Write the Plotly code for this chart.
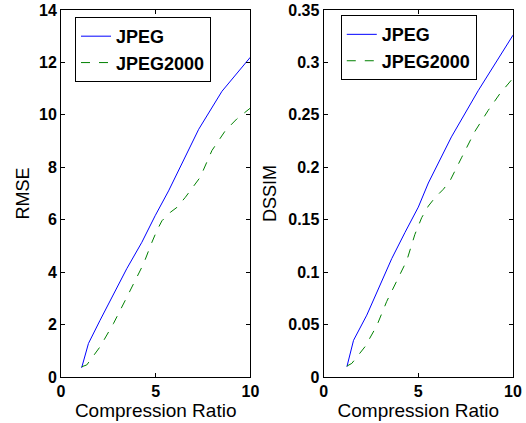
"""RMSE and DSSIM versus compression ratio for JPEG and JPEG2000."""

import plotly.graph_objects as go
from plotly.subplots import make_subplots

# Left panel: RMSE
RMSE_JPEG_X = [1.09, 1.45, 2.06, 2.86, 3.47, 4.27, 4.97, 5.68, 6.2, 7.27, 8.5, 10.0]
RMSE_JPEG_Y = [0.35, 1.28, 2.16, 3.3, 4.13, 5.14, 6.15, 7.1, 7.86, 9.45, 10.9, 12.2]
RMSE_J2K_X = [1.09, 1.36, 2.06, 2.77, 3.39, 3.92, 4.36, 4.8, 5.06, 5.33, 5.77,
              6.12, 6.56, 7.35, 7.97, 8.68, 9.29, 10.0]
RMSE_J2K_Y = [0.39, 0.46, 1.15, 2.04, 2.92, 3.68, 4.32, 5.14, 5.58, 5.96, 6.28,
              6.47, 6.85, 7.62, 8.64, 9.4, 9.85, 10.26]

# Right panel: DSSIM
DSSIM_JPEG_X = [1.23, 1.58, 2.28, 2.98, 3.6, 4.3, 5.0, 5.53, 6.75, 8.16, 10.0]
DSSIM_JPEG_Y = [0.0098, 0.035, 0.059, 0.087, 0.113, 0.138, 0.162, 0.185, 0.229,
                0.273, 0.326]
DSSIM_J2K_X = [1.23, 1.49, 2.19, 2.81, 3.33, 3.95, 4.39, 4.82, 5.18, 5.53, 5.88,
               6.32, 6.67, 7.28, 7.98, 8.68, 9.3, 10.0]
DSSIM_J2K_Y = [0.0104, 0.013, 0.029, 0.049, 0.072, 0.094, 0.111, 0.136, 0.152,
               0.163, 0.171, 0.179, 0.187, 0.209, 0.234, 0.254, 0.270, 0.285]

X_TICKS = [0, 5, 10]
RMSE_TICKS = [0, 2, 4, 6, 8, 10, 12, 14]
DSSIM_TICKS = [0, 0.05, 0.1, 0.15, 0.2, 0.25, 0.3, 0.35]
DSSIM_TICKTEXT = ["0", "0.05", "0.1", "0.15", "0.2", "0.25", "0.3", "0.35"]

BLUE = "#0000ff"
GREEN = "#008000"
FONT = "Liberation Sans, Arial, Helvetica, sans-serif"

fig = make_subplots(rows=1, cols=2, horizontal_spacing=0.162)

fig.add_trace(go.Scatter(x=RMSE_JPEG_X, y=RMSE_JPEG_Y, mode="lines", name="JPEG",
                         line={"color": BLUE, "width": 1}, legend="legend"), 1, 1)
fig.add_trace(go.Scatter(x=RMSE_J2K_X, y=RMSE_J2K_Y, mode="lines", name="JPEG2000",
                         line={"color": GREEN, "width": 1, "dash": "dash"},
                         legend="legend"), 1, 1)
fig.add_trace(go.Scatter(x=DSSIM_JPEG_X, y=DSSIM_JPEG_Y, mode="lines", name="JPEG",
                         line={"color": BLUE, "width": 1}, legend="legend2"), 1, 2)
fig.add_trace(go.Scatter(x=DSSIM_J2K_X, y=DSSIM_J2K_Y, mode="lines", name="JPEG2000",
                         line={"color": GREEN, "width": 1, "dash": "dash"},
                         legend="legend2"), 1, 2)

axis_common = dict(
    showline=True, linecolor="black", linewidth=1, mirror="ticks",
    ticks="inside", ticklen=4, tickcolor="black", showgrid=False, zeroline=False,
    automargin=False, ticklabeloverflow="allow",
    tickfont={"family": FONT, "size": 16, "color": "black", "weight": "bold"},
)

for col in (1, 2):
    fig.update_xaxes(range=[0, 10], tickvals=X_TICKS, title_text="Compression Ratio",
                     title_font={"family": FONT, "size": 19, "color": "black"},
                     title_standoff=0, row=1, col=col, **axis_common)

fig.update_yaxes(range=[0, 14], tickvals=RMSE_TICKS, title_text="RMSE",
                 title_font={"family": FONT, "size": 18, "color": "black"},
                 title_standoff=4, row=1, col=1, **axis_common)
fig.update_yaxes(range=[0, 0.35], tickvals=DSSIM_TICKS, ticktext=DSSIM_TICKTEXT,
                 title_font={"family": FONT, "size": 18, "color": "black"},
                 title_standoff=6, title_text="DSSIM", row=1, col=2, **axis_common)

legend_common = dict(
    bgcolor="white", bordercolor="black", borderwidth=1,
    font={"family": FONT, "size": 18, "color": "black", "weight": "bold"},
    xanchor="left", yanchor="top", tracegroupgap=0, itemwidth=30,
)

fig.update_layout(
    width=526, height=423,
    paper_bgcolor="white", plot_bgcolor="white",
    margin={"l": 61, "r": 13, "t": 10, "b": 46},
    showlegend=True,
    legend=dict(x=0.031, y=0.981, **legend_common),
    legend2=dict(x=0.619, y=0.986, **legend_common),
)

# drop the browser's default 8px body margin so the figure sits at the corner
fig.write_html("out.html", config={"displayModeBar": False},
               post_script="document.body.style.margin = '0';")
